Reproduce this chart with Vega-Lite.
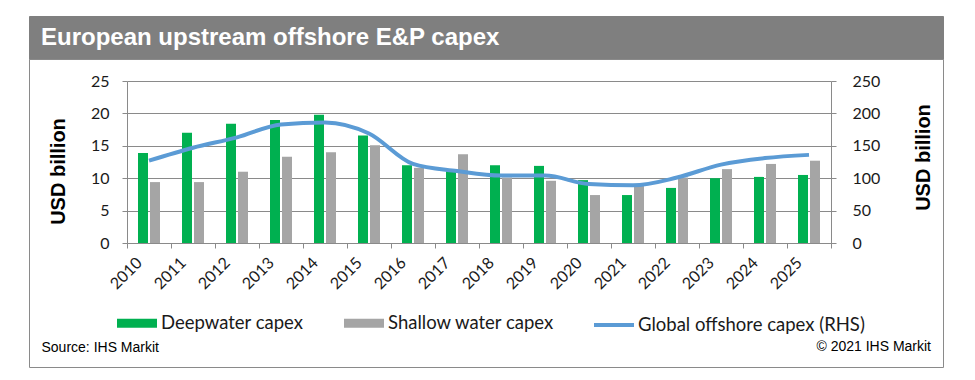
{
  "$schema": "https://vega.github.io/schema/vega-lite/v6.json",
  "padding": {"left": 22, "top": 15, "right": 31, "bottom": 14},
  "background": "white",
  "spacing": 0,
  "bounds": "flush",
  "datasets": {
    "bars": [
      {"year": "2010", "series": "Deepwater capex", "value": 13.9},
      {"year": "2010", "series": "Shallow water capex", "value": 9.4},
      {"year": "2011", "series": "Deepwater capex", "value": 17.0},
      {"year": "2011", "series": "Shallow water capex", "value": 9.4},
      {"year": "2012", "series": "Deepwater capex", "value": 18.4},
      {"year": "2012", "series": "Shallow water capex", "value": 11.0},
      {"year": "2013", "series": "Deepwater capex", "value": 19.0},
      {"year": "2013", "series": "Shallow water capex", "value": 13.3},
      {"year": "2014", "series": "Deepwater capex", "value": 19.8},
      {"year": "2014", "series": "Shallow water capex", "value": 14.0},
      {"year": "2015", "series": "Deepwater capex", "value": 16.6},
      {"year": "2015", "series": "Shallow water capex", "value": 15.1},
      {"year": "2016", "series": "Deepwater capex", "value": 12.0},
      {"year": "2016", "series": "Shallow water capex", "value": 11.6},
      {"year": "2017", "series": "Deepwater capex", "value": 11.1},
      {"year": "2017", "series": "Shallow water capex", "value": 13.7},
      {"year": "2018", "series": "Deepwater capex", "value": 12.0},
      {"year": "2018", "series": "Shallow water capex", "value": 10.1},
      {"year": "2019", "series": "Deepwater capex", "value": 11.9},
      {"year": "2019", "series": "Shallow water capex", "value": 9.6},
      {"year": "2020", "series": "Deepwater capex", "value": 9.7},
      {"year": "2020", "series": "Shallow water capex", "value": 7.4},
      {"year": "2021", "series": "Deepwater capex", "value": 7.4},
      {"year": "2021", "series": "Shallow water capex", "value": 8.9},
      {"year": "2022", "series": "Deepwater capex", "value": 8.5},
      {"year": "2022", "series": "Shallow water capex", "value": 10.1},
      {"year": "2023", "series": "Deepwater capex", "value": 10.0},
      {"year": "2023", "series": "Shallow water capex", "value": 11.4},
      {"year": "2024", "series": "Deepwater capex", "value": 10.2},
      {"year": "2024", "series": "Shallow water capex", "value": 12.2},
      {"year": "2025", "series": "Deepwater capex", "value": 10.5},
      {"year": "2025", "series": "Shallow water capex", "value": 12.7}
    ],
    "line": [
      {"year": "2010", "series": "Global offshore capex (RHS)", "value": 127},
      {"year": "2011", "series": "Global offshore capex (RHS)", "value": 147},
      {"year": "2012", "series": "Global offshore capex (RHS)", "value": 163},
      {"year": "2013", "series": "Global offshore capex (RHS)", "value": 183},
      {"year": "2014", "series": "Global offshore capex (RHS)", "value": 186},
      {"year": "2015", "series": "Global offshore capex (RHS)", "value": 169},
      {"year": "2016", "series": "Global offshore capex (RHS)", "value": 122},
      {"year": "2017", "series": "Global offshore capex (RHS)", "value": 111},
      {"year": "2018", "series": "Global offshore capex (RHS)", "value": 104},
      {"year": "2019", "series": "Global offshore capex (RHS)", "value": 104},
      {"year": "2020", "series": "Global offshore capex (RHS)", "value": 91},
      {"year": "2021", "series": "Global offshore capex (RHS)", "value": 89},
      {"year": "2022", "series": "Global offshore capex (RHS)", "value": 101},
      {"year": "2023", "series": "Global offshore capex (RHS)", "value": 121},
      {"year": "2024", "series": "Global offshore capex (RHS)", "value": 131},
      {"year": "2025", "series": "Global offshore capex (RHS)", "value": 136}
    ],
    "title": [{"t": "European upstream offshore E&P capex"}]
  },
  "config": {
    "view": {"stroke": null},
    "axis": {
      "labelFont": "Lato",
      "labelFontSize": 16,
      "labelColor": "#1a1a1a",
      "domainColor": "#8a8a8a",
      "tickColor": "#8a8a8a",
      "gridColor": "#8a8a8a",
      "tickSize": 5,
      "titleFont": "Liberation Sans",
      "titleFontSize": 20,
      "titleFontWeight": "bold",
      "titleColor": "#000000"
    },
    "legend": {
      "labelFont": "Lato",
      "labelFontSize": 18.5,
      "labelColor": "#1a1a1a",
      "labelLimit": 500
    }
  },
  "vconcat": [
    {
      "width": 914,
      "height": 43,
      "view": {"fill": "#7f7f7f", "stroke": "#7f7f7f"},
      "data": {"name": "title"},
      "mark": {"type": "text", "align": "left", "baseline": "middle", "dx": 12, "color": "white", "font": "Liberation Sans", "fontSize": 24, "fontWeight": "bold"},
      "encoding": {
        "text": {"field": "t"},
        "x": {"datum": 0, "scale": {"domain": [0, 1]}, "axis": null}
      }
    },
    {
      "width": 914,
      "height": 308,
      "view": {"fill": "white", "stroke": "#8a8a8a"},
      "title": {"text": "© 2021 IHS Markit", "orient": "bottom", "anchor": "end", "frame": "group", "offset": -27, "dx": -12, "font": "Liberation Sans", "fontSize": 14, "fontWeight": "normal", "color": "#000000"},
      "layer": [
        {
          "data": {"name": "bars"},
          "mark": {"type": "bar"},
          "encoding": {
            "x": {
              "field": "year", "type": "ordinal",
              "scale": {"range": [98, 802], "paddingInner": 0, "paddingOuter": 0},
              "axis": {
                "orient": "bottom", "offset": -124, "tickBand": "extent",
                "labelAngle": -45, "labelAlign": "right", "labelBaseline": "middle",
                "labelOffset": -10, "labelPadding": 12,
                "title": "Source: IHS Markit", "titleFont": "Liberation Sans", "titleFontSize": 14,
                "titleFontWeight": "normal", "titleAlign": "left", "titleBaseline": "middle",
                "titleX": 12, "titleY": 104, "titleAngle": 0
              }
            },
            "xOffset": {
              "field": "series",
              "scale": {"domain": ["Deepwater capex", "Shallow water capex"], "paddingInner": 0.1667, "paddingOuter": 0.9167}
            },
            "y": {
              "field": "value", "type": "quantitative",
              "scale": {"domain": [0, 25], "range": [184, 22], "nice": false},
              "axis": {
                "orient": "left", "offset": -98, "values": [0, 5, 10, 15, 20, 25], "grid": true,
                "labelPadding": 13, "title": "USD billion",
                "titleX": -69, "titleY": 112, "titleAngle": 270, "titleAlign": "center", "titleBaseline": "middle"
              }
            },
            "color": {
              "field": "series",
              "scale": {"domain": ["Deepwater capex", "Shallow water capex"], "range": ["#00b050", "#a5a5a5"]},
              "legend": {
                "orient": "none", "legendX": 88, "legendY": 287, "direction": "horizontal", "title": null,
                "symbolType": "M-1,-0.22H1V0.22H-1Z", "symbolSize": 1600, "symbolStrokeWidth": 0,
                "labelOffset": 4, "columnPadding": 40
              }
            }
          }
        },
        {
          "data": {"name": "line"},
          "mark": {"type": "line", "interpolate": "monotone", "strokeWidth": 4},
          "encoding": {
            "x": {"field": "year", "type": "ordinal"},
            "y": {
              "field": "value", "type": "quantitative",
              "scale": {"domain": [0, 250], "range": [184, 22], "nice": false},
              "axis": {
                "orient": "right", "offset": -112, "values": [0, 50, 100, 150, 200, 250], "grid": false,
                "labelPadding": 16, "title": "USD billion",
                "titleX": 92, "titleY": 98, "titleAngle": 270, "titleAlign": "center", "titleBaseline": "middle"
              }
            },
            "stroke": {
              "field": "series",
              "scale": {"domain": ["Global offshore capex (RHS)"], "range": ["#5b9bd5"]},
              "legend": {
                "orient": "none", "legendX": 563, "legendY": 287, "title": null,
                "symbolType": "stroke", "symbolSize": 1600, "symbolStrokeWidth": 4, "labelOffset": 2
              }
            }
          }
        }
      ],
      "resolve": {"scale": {"y": "independent"}}
    }
  ]
}
